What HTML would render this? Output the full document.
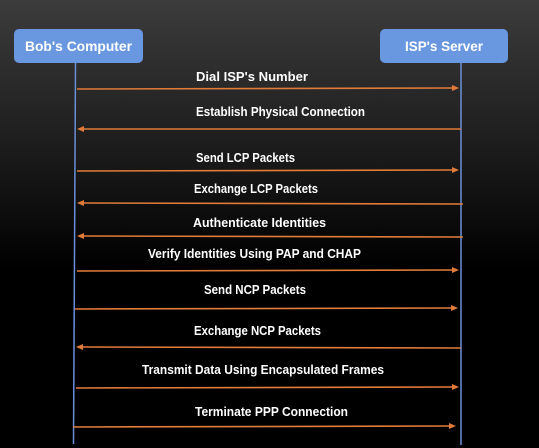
<!DOCTYPE html>
<html><head><style>
html,body{margin:0;padding:0;width:539px;height:448px;overflow:hidden;background:#000}
svg{display:block}
text{font-family:"Liberation Sans",sans-serif;font-weight:bold;fill:#fff}
</style></head><body>
<svg width="539" height="448" viewBox="0 0 539 448" xmlns="http://www.w3.org/2000/svg">
<defs>
<linearGradient id="bg" x1="0" y1="0" x2="0" y2="1">
<stop offset="0" stop-color="#3c3c3c"/>
<stop offset="0.35" stop-color="#1a1a1a"/>
<stop offset="0.6" stop-color="#000"/>
<stop offset="1" stop-color="#000"/>
</linearGradient>
</defs>
<rect width="539" height="448" fill="url(#bg)"/>
<rect x="14" y="29" width="129" height="34" rx="5" fill="#6a98e0"/>
<rect x="380" y="29" width="128" height="34" rx="5" fill="#6a98e0"/>
<text x="78.5" y="51" text-anchor="middle" font-size="14" textLength="107" lengthAdjust="spacingAndGlyphs">Bob's Computer</text>
<text x="444" y="51" text-anchor="middle" font-size="14" textLength="78" lengthAdjust="spacingAndGlyphs">ISP's Server</text>
<line x1="75.5" y1="63" x2="73.5" y2="444" stroke="#6a8fd8" stroke-width="1.5"/>
<line x1="461" y1="63" x2="461" y2="445" stroke="#6a8fd8" stroke-width="1.5"/>
<g stroke="#e07b39" stroke-width="1.6" fill="#e07b39">
<line x1="77" y1="89" x2="453" y2="88"/><polygon points="459,88 452,85 452,91" stroke="none"/>
<line x1="84" y1="129" x2="461" y2="129"/><polygon points="77,129 84,126 84,132" stroke="none"/>
<line x1="77" y1="171" x2="453" y2="170"/><polygon points="459,170 452,167 452,173" stroke="none"/>
<line x1="84" y1="203" x2="463" y2="204"/><polygon points="77,203 84,200 84,206" stroke="none"/>
<line x1="84" y1="236" x2="463" y2="237"/><polygon points="77,236 84,233 84,239" stroke="none"/>
<line x1="77" y1="271" x2="453" y2="270"/><polygon points="459,270 452,267 452,273" stroke="none"/>
<line x1="75" y1="309" x2="452" y2="308"/><polygon points="458,308 451,305 451,311" stroke="none"/>
<line x1="83" y1="347" x2="461" y2="348"/><polygon points="76,347 83,344 83,350" stroke="none"/>
<line x1="76" y1="388" x2="453" y2="387"/><polygon points="459,387 452,384 452,390" stroke="none"/>
<line x1="73" y1="427" x2="450" y2="426"/><polygon points="456,426 449,423 449,429" stroke="none"/>
</g>
<g font-size="13">
<text x="196" y="81" textLength="112" lengthAdjust="spacingAndGlyphs">Dial ISP's Number</text>
<text x="196" y="116" textLength="169" lengthAdjust="spacingAndGlyphs">Establish Physical Connection</text>
<text x="196" y="162" textLength="99" lengthAdjust="spacingAndGlyphs">Send LCP Packets</text>
<text x="194" y="193" textLength="124" lengthAdjust="spacingAndGlyphs">Exchange LCP Packets</text>
<text x="193" y="227" textLength="133" lengthAdjust="spacingAndGlyphs">Authenticate Identities</text>
<text x="148" y="258" textLength="213" lengthAdjust="spacingAndGlyphs">Verify Identities Using PAP and CHAP</text>
<text x="204" y="294" textLength="102" lengthAdjust="spacingAndGlyphs">Send NCP Packets</text>
<text x="194" y="335" textLength="127" lengthAdjust="spacingAndGlyphs">Exchange NCP Packets</text>
<text x="142" y="374" textLength="242" lengthAdjust="spacingAndGlyphs">Transmit Data Using Encapsulated Frames</text>
<text x="195" y="416" textLength="153" lengthAdjust="spacingAndGlyphs">Terminate PPP Connection</text>
</g>
</svg>
</body></html>
